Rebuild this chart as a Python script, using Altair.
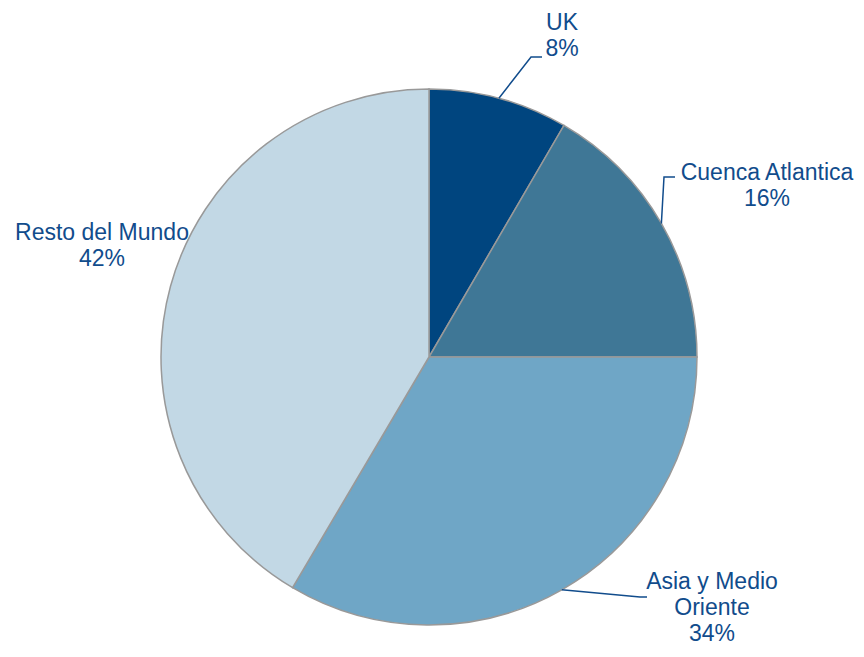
import math
import altair as alt
import pandas as pd

# ---- data ----
categories = ["UK", "Cuenca Atlantica", "Asia y Medio Oriente", "Resto del Mundo"]
shares = [8.4, 16.6, 33.5, 41.5]
pct_labels = ["8%", "16%", "34%", "42%"]
label_names = ["UK", "Cuenca Atlantica", "Asia y Medio\nOriente", "Resto del Mundo"]
colors = ["#00457F", "#3F7796", "#6FA6C6", "#C2D8E5"]

# ---- layout (pixels in plot coords) ----
W, H = 848, 641
CX, CY, R = 421, 349, 268
label_pos = [(554, 22), (759, 172), (704, 581), (94, 232)]  # first-line baseline
elbows = [[(523, 49), (534, 49)], [(656, 169), (667, 169)], [(632, 589), (639, 589)], None]

df = pd.DataFrame({"cat": categories, "val": shares, "order": range(4)})

arc = alt.Chart(df).mark_arc(radius=R, stroke="#999999", strokeWidth=1.5).encode(
    theta=alt.Theta("val:Q", stack=True),
    color=alt.Color("cat:N", scale=alt.Scale(domain=categories, range=colors), legend=None),
    order=alt.Order("order:Q"),
    x=alt.value(CX),
    y=alt.value(CY),
)

# labels
lab_rows = []
for i, c in enumerate(categories):
    lab_rows.append({"cat": c, "txt": label_names[i] + "\n" + pct_labels[i],
                     "x": label_pos[i][0], "y": label_pos[i][1]})
lab_df = pd.DataFrame(lab_rows)

xs = alt.Scale(domain=[0, W], nice=False, zero=False)
ys = alt.Scale(domain=[0, H], nice=False, zero=False, reverse=True)

text = alt.Chart(lab_df).mark_text(
    lineBreak="\n", lineHeight=26, fontSize=23, font="Liberation Sans",
    color="#114C8C", align="center", baseline="alphabetic"
).encode(
    x=alt.X("x:Q", scale=xs, axis=None),
    y=alt.Y("y:Q", scale=ys, axis=None),
    text="txt:N",
)

# leader lines: start at slice mid-angle on the rim
line_rows = []
cum = 0.0
total = sum(shares)
for i, c in enumerate(categories):
    mid = (cum + shares[i] / 2) / total * 2 * math.pi
    cum += shares[i]
    if elbows[i] is None:
        continue
    sx = CX + R * math.sin(mid)
    sy = CY - R * math.cos(mid)
    pts = [(sx, sy)] + elbows[i]
    for k, (px, py) in enumerate(pts):
        line_rows.append({"cat": c, "k": k, "x": px, "y": py})
line_df = pd.DataFrame(line_rows)

lines = alt.Chart(line_df).mark_line(color="#114C8C", strokeWidth=1.5).encode(
    x=alt.X("x:Q", scale=xs, axis=None),
    y=alt.Y("y:Q", scale=ys, axis=None),
    detail="cat:N",
    order="k:Q",
)

chart = alt.layer(arc, lines, text).properties(
    width=W, height=H, padding=0,
    autosize=alt.AutoSizeParams(type="none"),
).configure(background="white").configure_view(stroke=None)

chart.save("out.html", embed_options={"renderer": "svg", "actions": False})
